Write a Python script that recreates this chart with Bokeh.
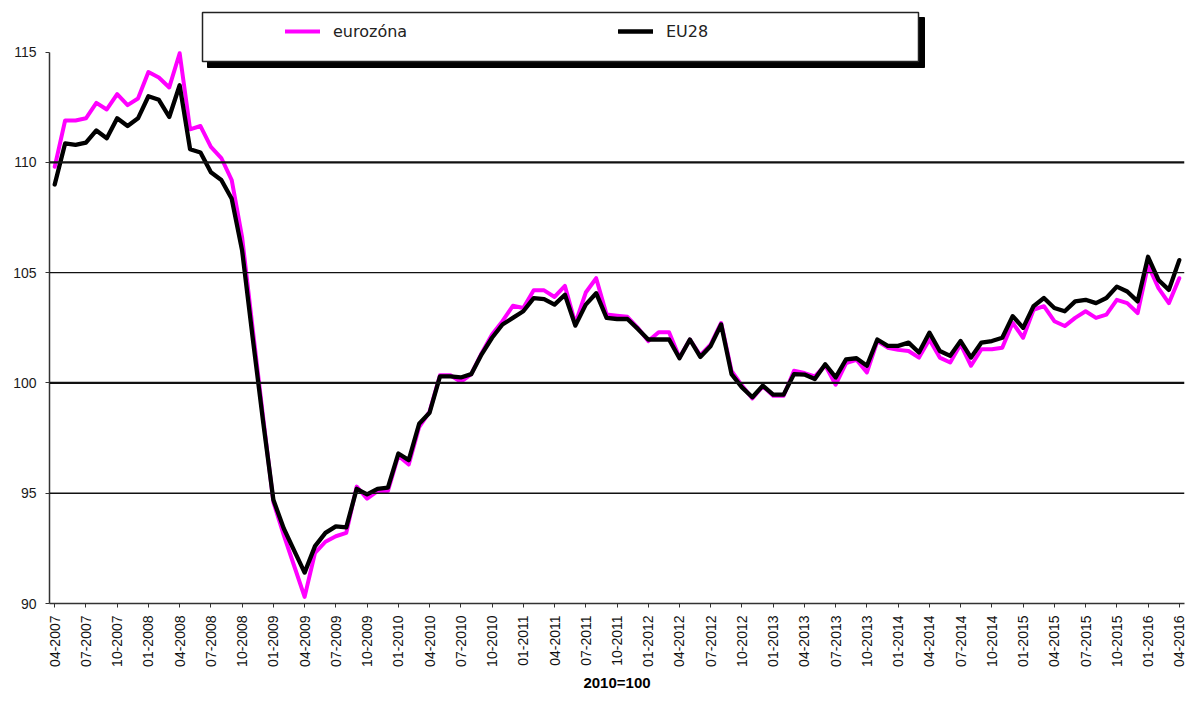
import math
from bokeh.plotting import figure
from bokeh.models import (Range1d, FixedTicker, Span, BoxAnnotation, Legend,
                          LegendItem, ColumnDataSource)
from bokeh.embed import file_html
from bokeh.resources import INLINE

# ---------------- data ----------------
months = [f"{(3 + k) % 12 + 1:02d}-{2007 + (3 + k) // 12}" for k in range(109)]

eurozona = [
    109.8, 111.9, 111.9, 112.0, 112.7, 112.4, 113.1, 112.6, 112.9, 114.1,
    113.85, 113.4, 114.95, 111.5, 111.65, 110.7, 110.2, 109.2, 106.6, 102.5,
    98.5, 94.6, 93.1, 91.7, 90.3, 92.3, 92.8, 93.05, 93.2, 95.3,
    94.75, 95.1, 95.1, 96.7, 96.3, 98.0, 98.7, 100.35, 100.35, 100.05,
    100.4, 101.35, 102.2, 102.8, 103.5, 103.4, 104.2, 104.2, 103.9, 104.4,
    102.7, 104.1, 104.75, 103.1, 103.05, 103.0, 102.5, 101.9, 102.3, 102.3,
    101.15, 101.97, 101.25, 101.75, 102.72, 100.55, 99.88, 99.3, 99.85, 99.42,
    99.42, 100.55, 100.45, 100.3, 100.8, 99.92, 100.9, 101.05, 100.48, 101.9,
    101.6, 101.5, 101.45, 101.15, 101.97, 101.15, 100.93, 101.75, 100.78, 101.53,
    101.53, 101.6, 102.73, 102.05, 103.32, 103.48, 102.8, 102.58, 102.95, 103.25,
    102.95, 103.1, 103.77, 103.62, 103.17, 105.35, 104.3, 103.62, 104.75,
]

eu28 = [
    109.0, 110.86, 110.8, 110.9, 111.45, 111.1, 112.0, 111.65, 112.0, 113.0,
    112.84, 112.06, 113.5, 110.6, 110.45, 109.55, 109.2, 108.35, 106.0, 102.1,
    98.3, 94.7, 93.4, 92.4, 91.4, 92.6, 93.2, 93.5, 93.45, 95.2,
    94.95, 95.2, 95.25, 96.8, 96.5, 98.15, 98.65, 100.3, 100.3, 100.25,
    100.4, 101.3, 102.05, 102.65, 102.95, 103.25, 103.85, 103.8, 103.55, 104.0,
    102.6, 103.55, 104.07, 102.95, 102.9, 102.9, 102.45, 101.97, 101.97, 101.97,
    101.12, 101.97, 101.18, 101.68, 102.65, 100.4, 99.8, 99.35, 99.88, 99.47,
    99.47, 100.4, 100.38, 100.18, 100.85, 100.25, 101.07, 101.12, 100.78, 101.97,
    101.68, 101.68, 101.83, 101.38, 102.28, 101.45, 101.23, 101.9, 101.15, 101.83,
    101.9, 102.05, 103.03, 102.5, 103.48, 103.85, 103.4, 103.25, 103.7, 103.77,
    103.62, 103.85, 104.37, 104.15, 103.7, 105.72, 104.67, 104.22, 105.57,
]

series_names = ["eurozóna", "EU28"]
y_ticks = [90, 95, 100, 105, 110, 115]
x_tick_step = 3
axis_title = "2010=100"

# ---------------- layout ----------------
W, H = 1191, 693
BL, BR, BT = 49, 7, 10
FRAME_W = W - BL - BR
FRAME_H = 598
BB = H - BT - FRAME_H
PX_PER_UNIT = 22.24
y_end = y_ticks[0] + FRAME_H / PX_PER_UNIT

idx = list(range(len(months)))
src = ColumnDataSource(dict(x=idx, ez=eurozona, eu=eu28))

p = figure(width=W, height=H, x_range=Range1d(-0.5, len(months) - 0.5),
           y_range=Range1d(y_ticks[0], y_end),
           output_backend="svg", toolbar_location=None,
           min_border_left=BL, min_border_right=BR,
           min_border_top=BT, min_border_bottom=BB)
p.outline_line_color = None
p.background_fill_color = "white"
p.border_fill_color = "white"
p.xgrid.visible = False
p.ygrid.visible = False

# gridlines
for v, w in [(95, 1.3), (100, 2.3), (105, 1.3), (110, 2.3)]:
    p.add_layout(Span(location=v, dimension="width", line_color="#111111",
                      line_width=w))

r_ez = p.line("x", "ez", source=src, line_color="#ff00ff", line_width=4,
              line_join="round", line_cap="round")
r_eu = p.line("x", "eu", source=src, line_color="#000000", line_width=4.3,
              line_join="round", line_cap="round")

# y axis
ya = p.yaxis[0]
ya.ticker = FixedTicker(ticks=y_ticks)
ya.bounds = (y_ticks[0], y_ticks[-1])
ya.axis_line_color = "#333333"
ya.axis_line_width = 1.5
ya.major_tick_line_color = "#333333"
ya.major_tick_out = 4
ya.major_tick_in = 0
ya.minor_tick_line_color = None
ya.major_label_text_font = "Liberation Sans"
ya.major_label_text_font_size = "14px"
ya.major_label_text_color = "#1a1a1a"
ya.major_label_standoff = 9

# x axis
xa = p.xaxis[0]
tick_pos = list(range(0, len(months), x_tick_step))
xa.ticker = FixedTicker(ticks=tick_pos)
xa.major_label_overrides = {i: months[i] for i in tick_pos}
xa.major_label_orientation = math.pi / 2
xa.axis_line_color = "#333333"
xa.axis_line_width = 1.5
xa.major_tick_line_color = "#333333"
xa.major_tick_out = 4
xa.major_tick_in = 0
xa.minor_tick_line_color = None
xa.major_label_text_font = "Liberation Sans"
xa.major_label_text_font_size = "14px"
xa.major_label_text_color = "#111111"
xa.major_label_standoff = 8
xa.axis_label = axis_title
xa.axis_label_text_font = "Liberation Sans"
xa.axis_label_text_font_size = "15px"
xa.axis_label_text_font_style = "bold"
xa.axis_label_text_color = "#000000"
xa.axis_label_standoff = 4

# legend box (shadow + box), canvas units
shadow = BoxAnnotation(left=207, right=924, top=17, bottom=67,
                       left_units="canvas", right_units="canvas",
                       top_units="canvas", bottom_units="canvas",
                       fill_color="#000000", fill_alpha=1.0,
                       line_color="#000000", line_alpha=1.0, line_width=1)
box = BoxAnnotation(left=202, right=918, top=12, bottom=61,
                    left_units="canvas", right_units="canvas",
                    top_units="canvas", bottom_units="canvas",
                    fill_color="#ffffff", fill_alpha=1.0,
                    line_color="#222222", line_alpha=1.0, line_width=1.5)
p.add_layout(shadow)
p.add_layout(box)

legend = Legend(items=[LegendItem(label=series_names[0], renderers=[r_ez]),
                       LegendItem(label=series_names[1], renderers=[r_eu])],
                orientation="horizontal", location=(236, 562),
                padding=0, margin=0, spacing=45,
                glyph_width=35, glyph_height=20, label_standoff=13,
                label_width=240, label_height=20,
                label_text_font="DejaVu Sans", label_text_font_size="16px",
                label_text_color="#222222",
                border_line_alpha=0, background_fill_alpha=0)
p.add_layout(legend, "center")

open("out.html", "w").write(file_html(p, INLINE))
